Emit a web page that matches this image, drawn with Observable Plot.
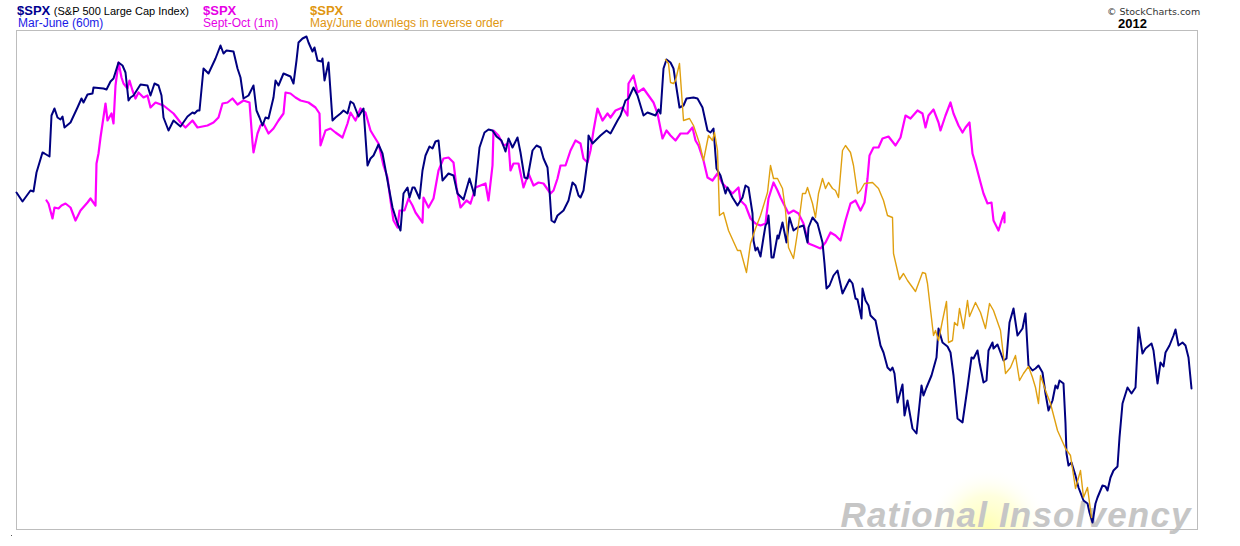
<!DOCTYPE html>
<html>
<head>
<meta charset="utf-8">
<script src="https://cdn.jsdelivr.net/npm/d3@7"></script>
<script src="https://cdn.jsdelivr.net/npm/@observablehq/plot@0.6"></script>
<style>
  html, body { margin: 0; padding: 0; background: #fff; }
  #wrap { position: relative; width: 1240px; height: 546px; overflow: hidden; font-family: "Liberation Sans", Arial, sans-serif; }
  #wrap svg { position: absolute; left: 0; top: 0; }
  .t { position: absolute; white-space: nowrap; line-height: 1; }
</style>
</head>
<body>
<div id="wrap">
  <div class="t" style="left:17px;top:3.5px;font-size:13px;font-weight:bold;color:#000090">$SPX <span style="font-weight:normal;font-size:11px;color:#000">(S&amp;P 500 Large Cap Index)</span></div>
  <div class="t" style="left:18px;top:17.2px;font-size:12px;color:#1a1ae6">Mar-June (60m)</div>
  <div class="t" style="left:203px;top:3.5px;font-size:13px;font-weight:bold;color:#e600e6">$SPX</div>
  <div class="t" style="left:203px;top:17.2px;font-size:12px;color:#e600e6">Sept-Oct (1m)</div>
  <div class="t" style="left:310px;top:3.5px;font-size:13px;font-weight:bold;color:#e0960f">$SPX</div>
  <div class="t" style="left:310px;top:17.2px;font-size:12px;color:#e0960f">May/June downlegs in reverse order</div>
  <div class="t" style="left:1107px;top:6.5px;font-size:9.5px;font-family:'DejaVu Sans',sans-serif;color:#333">© StockCharts.com</div>
  <div class="t" style="left:1118px;top:16.8px;font-size:13px;font-weight:bold;color:#000">2012</div>
  <div style="position:absolute;left:11px;top:535px;width:1px;height:1px;background:#555"></div>
</div>
<script>
// Time index (t) vs. relative level (v, height above the chart floor).
const seriesNames = ["Mar-June (60m)", "Sept-Oct (1m)", "May/June downlegs in reverse order"];

const marJune = [[0,337],[6,328],[14,339],[17,338],[20,357],[26,377],[28,376],[33,373],[35,414],[38,421],[41,412],[44,410],[46,413],[48,402],[54,407],[61,422],[65,431],[67,427],[71,435],[76,436],[77,442],[87,441],[90,440],[94,448],[97,451],[102,467],[106,464],[109,457],[112,429],[114,432],[117,434],[124,445],[131,444],[134,434],[138,446],[142,444],[145,434],[147,412],[152,399],[157,409],[164,403],[171,413],[176,417],[178,416],[181,419],[183,419],[187,461],[192,456],[199,471],[204,484],[207,476],[210,479],[217,478],[221,461],[224,452],[227,431],[232,434],[237,444],[240,419],[243,412],[246,404],[249,412],[252,411],[257,432],[259,449],[262,444],[267,456],[274,453],[277,446],[280,469],[282,487],[286,491],[290,493],[292,487],[296,478],[298,482],[301,469],[305,468],[306,471],[308,449],[312,467],[316,409],[319,412],[324,416],[327,419],[331,416],[334,428],[337,426],[342,413],[347,421],[351,364],[354,371],[357,374],[362,385],[366,376],[371,349],[376,322],[381,306],[384,299],[387,336],[391,342],[393,332],[396,342],[398,342],[403,331],[406,359],[409,374],[413,383],[416,381],[419,388],[422,389],[426,349],[432,356],[437,354],[441,336],[447,330],[453,351],[458,334],[463,382],[468,397],[472,400],[476,399],[480,393],[485,389],[489,378],[492,391],[496,382],[501,392],[504,377],[508,352],[511,351],[516,379],[520,384],[524,382],[527,371],[531,362],[533,339],[535,309],[538,307],[541,314],[547,319],[552,329],[556,347],[559,344],[562,334],[564,332],[567,339],[571,369],[572,394],[576,386],[584,394],[590,399],[594,396],[601,409],[604,414],[609,429],[612,431],[617,442],[621,434],[627,414],[631,417],[639,414],[642,420],[644,416],[647,461],[650,470],[654,467],[657,461],[663,422],[667,424],[670,431],[677,432],[681,431],[686,422],[691,399],[694,397],[697,401],[700,361],[704,354],[709,336],[711,342],[716,332],[721,324],[726,332],[729,344],[732,342],[736,316],[737,289],[739,279],[741,282],[744,273],[747,292],[749,304],[751,307],[752,314],[755,272],[757,272],[761,294],[762,291],[766,307],[770,287],[773,312],[777,299],[781,302],[787,304],[791,287],[792,302],[796,312],[801,306],[806,287],[808,266],[810,241],[813,244],[817,254],[821,259],[826,236],[833,250],[836,246],[839,231],[841,230],[845,211],[846,241],[849,229],[852,224],[854,214],[859,209],[864,184],[867,177],[871,162],[874,159],[876,162],[878,156],[881,127],[886,145],[888,114],[891,129],[896,101],[900,96],[905,144],[907,134],[910,142],[915,154],[920,172],[922,201],[926,187],[931,183],[934,177],[937,154],[941,111],[946,107],[948,121],[951,142],[955,172],[957,171],[961,179],[963,167],[967,147],[970,149],[972,179],[976,187],[977,181],[981,185],[984,177],[987,169],[990,171],[993,207],[997,221],[998,214],[1001,194],[1006,201],[1009,216],[1012,164],[1016,159],[1019,161],[1022,164],[1026,157],[1029,136],[1032,119],[1036,129],[1039,144],[1041,141],[1043,149],[1047,146],[1049,106],[1050,76],[1052,64],[1055,67],[1059,54],[1062,42],[1067,29],[1071,26],[1073,17],[1076,7],[1079,26],[1081,32],[1086,44],[1089,43],[1091,39],[1094,52],[1097,59],[1101,63],[1103,92],[1106,126],[1111,142],[1115,136],[1119,142],[1122,202],[1126,176],[1129,181],[1135,186],[1137,179],[1141,146],[1144,167],[1147,163],[1149,177],[1153,184],[1157,194],[1159,200],[1162,184],[1166,187],[1169,184],[1172,172],[1175,141]];

const septOct = [[30,329],[32,326],[36,311],[38,322],[42,321],[45,324],[49,326],[54,322],[59,309],[64,319],[71,327],[74,331],[79,324],[80,366],[82,376],[84,392],[89,426],[91,409],[95,416],[97,406],[99,444],[102,467],[105,452],[107,446],[111,441],[113,449],[116,439],[119,431],[122,437],[127,432],[131,434],[134,422],[139,427],[147,424],[157,416],[164,407],[169,402],[176,409],[181,402],[191,404],[197,407],[202,412],[206,426],[211,427],[216,431],[221,425],[227,429],[233,427],[236,387],[237,377],[241,396],[244,404],[247,406],[252,396],[257,401],[262,409],[267,416],[269,437],[274,436],[279,432],[284,429],[292,427],[299,422],[303,416],[304,384],[309,399],[314,401],[319,397],[326,392],[331,406],[334,417],[339,409],[344,421],[349,417],[354,399],[357,394],[362,386],[367,364],[371,352],[374,329],[377,309],[381,302],[383,319],[388,319],[392,331],[396,324],[399,317],[406,307],[407,332],[412,322],[417,331],[422,359],[427,371],[432,372],[437,367],[440,342],[444,322],[450,329],[454,326],[459,342],[464,344],[469,346],[472,329],[476,364],[477,399],[482,394],[487,384],[492,386],[494,359],[497,366],[502,366],[507,342],[512,356],[517,344],[522,347],[527,346],[534,336],[537,339],[541,351],[544,364],[549,364],[554,379],[559,389],[564,386],[567,371],[571,367],[574,379],[577,399],[581,421],[586,409],[591,416],[594,412],[599,419],[606,422],[611,414],[612,446],[617,454],[621,437],[627,441],[632,434],[637,427],[641,416],[646,391],[650,399],[654,394],[659,389],[664,396],[671,396],[676,402],[679,389],[682,384],[687,369],[691,352],[696,349],[701,356],[706,346],[711,341],[716,336],[722,342],[724,329],[729,324],[734,311],[739,306],[744,304],[749,306],[752,331],[757,347],[761,339],[764,332],[767,326],[772,316],[777,319],[782,316],[787,306],[792,286],[797,284],[804,281],[809,287],[814,297],[819,294],[824,289],[829,309],[834,326],[839,329],[844,319],[848,327],[851,351],[853,374],[857,382],[862,382],[866,391],[872,393],[879,384],[884,392],[889,414],[894,411],[901,419],[906,416],[909,402],[912,414],[917,420],[922,407],[924,399],[929,414],[934,427],[937,416],[942,404],[946,397],[949,402],[953,407],[956,376],[959,366],[964,347],[967,336],[971,326],[975,327],[977,309],[982,299],[986,312],[988,317],[988,307]];

const downlegs = [[649,470],[652,466],[654,447],[657,446],[659,449],[663,466],[667,409],[673,411],[677,404],[683,386],[687,369],[692,394],[696,389],[698,397],[701,379],[703,314],[707,317],[712,299],[721,279],[724,279],[730,257],[734,286],[739,301],[744,314],[751,337],[754,364],[757,351],[761,351],[766,341],[769,319],[772,282],[777,271],[781,297],[786,336],[789,336],[791,342],[796,326],[799,312],[802,336],[806,351],[809,341],[812,347],[816,341],[819,339],[822,332],[826,379],[829,384],[834,377],[837,364],[841,336],[844,339],[848,346],[856,347],[862,341],[867,329],[871,314],[876,312],[877,276],[883,250],[887,256],[891,249],[899,238],[906,257],[909,256],[911,246],[917,194],[919,199],[922,189],[926,209],[930,228],[932,187],[936,189],[938,207],[941,204],[943,221],[947,201],[951,229],[953,213],[959,227],[964,217],[969,201],[973,226],[977,219],[984,199],[989,156],[994,162],[999,174],[1003,149],[1007,156],[1012,163],[1016,152],[1019,142],[1022,126],[1024,154],[1029,139],[1034,126],[1041,99],[1049,81],[1054,74],[1059,41],[1064,59],[1067,32],[1071,42],[1075,12]];

const watermark = ["Rational Insolvency"];

const rows = (pairs, name) => pairs.map(([t, v]) => ({t, v, series: name}));

const chart = Plot.plot({
  width: 1240,
  height: 546,
  marginLeft: 16,
  marginRight: 43,
  marginTop: 30,
  marginBottom: 17,
  style: {background: "transparent", overflow: "visible"},
  x: {domain: [0, 1181], axis: null},
  y: {domain: [0, 499], axis: null},
  marks: [
    Plot.dot({length: 1}, {frameAnchor: "bottom-right", dx: -210, r: 62, fill: "url(#glow)", stroke: "none", clip: true}),
    Plot.text(watermark, {frameAnchor: "bottom-right", textAnchor: "end", lineAnchor: "bottom", dx: -7, dy: -3,
      fontSize: 35, fontWeight: "bold", fontStyle: "italic", fontFamily: "Liberation Sans, Arial, sans-serif", fill: "#c6c6c6"}),
    Plot.frame({stroke: "#bdbdbd"}),
    Plot.line(rows(septOct, seriesNames[1]), {x: "t", y: "v", stroke: "#ff00ff", strokeWidth: 2.2, strokeLinejoin: "round"}),
    Plot.line(rows(marJune, seriesNames[0]), {x: "t", y: "v", stroke: "#000080", strokeWidth: 2, strokeLinejoin: "round"}),
    Plot.line(rows(downlegs, seriesNames[2]), {x: "t", y: "v", stroke: "#e0a010", strokeWidth: 1.4, strokeLinejoin: "round"})
  ]
});

const ns = "http://www.w3.org/2000/svg";
const defs = document.createElementNS(ns, "defs");
defs.innerHTML = '<radialGradient id="glow"><stop offset="0" stop-color="#ffffb0" stop-opacity="1"/><stop offset="0.55" stop-color="#ffffd0" stop-opacity="0.7"/><stop offset="1" stop-color="#ffffff" stop-opacity="0"/></radialGradient>';
chart.prepend(defs);
chart.querySelectorAll("text").forEach(el => {
  if (el.textContent === watermark[0]) { el.setAttribute("textLength", "350"); el.setAttribute("lengthAdjust", "spacing"); }
});
document.getElementById("wrap").prepend(chart);
</script>
</body>
</html>
